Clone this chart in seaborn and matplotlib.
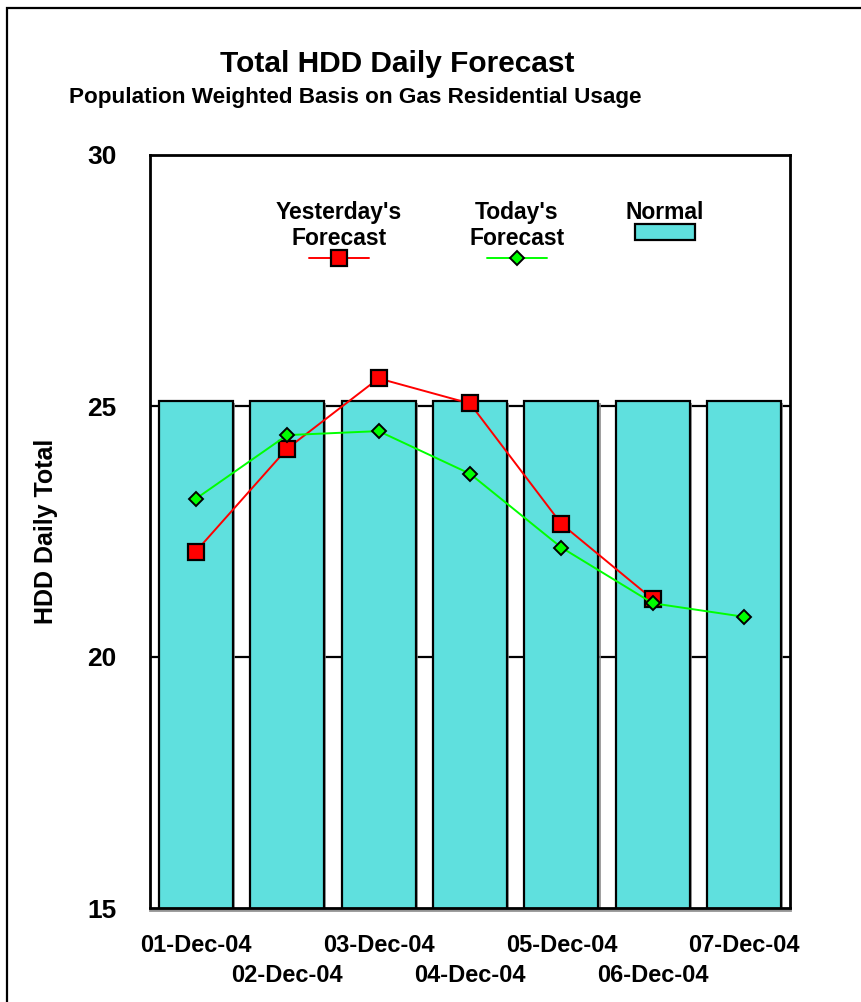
import numpy as np
import pandas as pd
import seaborn as sns
import matplotlib.pyplot as plt
from matplotlib.lines import Line2D
from matplotlib.patches import Patch, Rectangle
import matplotlib.patheffects as pe

# ---- data ----
dates = ["01-Dec-04", "02-Dec-04", "03-Dec-04", "04-Dec-04",
         "05-Dec-04", "06-Dec-04", "07-Dec-04"]
normal = [25.1, 25.1, 25.1, 25.1, 25.1, 25.1, 25.1]
yesterday = [22.1, 24.15, 25.55, 25.05, 22.65, 21.15]
today = [23.15, 24.42, 24.5, 23.65, 22.18, 21.07, 20.8]
y_ticks = [15, 20, 25, 30]

sns.set_theme(style="white")
plt.rcParams["font.family"] = ["Liberation Sans", "DejaVu Sans"]
plt.rcParams["font.weight"] = "bold"
for key in ["text.color", "axes.labelcolor", "xtick.color", "ytick.color"]:
    plt.rcParams[key] = "black"

BAR = "#5FE0DE"
RED = "#FF0000"
GREEN = "#00FF00"

fig = plt.figure(figsize=(8.62, 10.02), dpi=100)
ax = fig.add_axes([150 / 862, 94 / 1002, 640 / 862, 753 / 1002])

# outer frame
fig.patches.append(Rectangle((7 / 862, -0.05), 1.2, 1 - 7.5 / 1002 + 0.05,
                             transform=fig.transFigure, fill=False,
                             edgecolor="black", linewidth=1.6, zorder=0))

bar_df = pd.DataFrame({"date": dates, "normal": normal})
sns.barplot(data=bar_df, x="date", y="normal", color=BAR, saturation=1,
            edgecolor="black", linewidth=1.6, width=0.81, ax=ax, zorder=2)
for p in ax.patches:
    p.set_path_effects([pe.SimplePatchShadow(offset=(1.5, -1.5), shadow_rgbFace="#888888", alpha=0.8),
                        pe.Normal()])

sns.pointplot(x=dates[:len(yesterday)], y=yesterday, color=RED, markers="s",
              linestyles="-", errorbar=None, ax=ax,
              markersize=11.5, markeredgecolor="black", markeredgewidth=1.6,
              linewidth=1.4, zorder=4)
sns.pointplot(x=dates, y=today, color=GREEN, markers="D",
              linestyles="-", errorbar=None, ax=ax,
              markersize=7.5, markeredgecolor="black", markeredgewidth=1.4,
              linewidth=1.4, zorder=5)

ax.set_xlim(-0.5, len(dates) - 0.5)
ax.set_ylim(15, 30)
ax.set_yticks(y_ticks)
ax.set_yticklabels([str(t) for t in y_ticks], fontsize=19, fontweight="bold")
ax.tick_params(axis="y", length=0, pad=24)

# staggered date labels
ax.set_xticks(range(len(dates)))
ax.set_xticklabels(dates, fontsize=17, fontweight="bold")
ax.tick_params(axis="x", length=0)
for i, tick in enumerate(ax.xaxis.get_major_ticks()):
    tick.set_pad(19 if i % 2 == 0 else 40.5)

ax.set_xlabel("")
ax.set_ylabel("HDD Daily Total", fontsize=18, fontweight="bold", labelpad=21)

for v in [20, 25]:
    ax.axhline(v, color="black", linewidth=1.6, zorder=1)

for s in ax.spines.values():
    s.set_visible(True)
    s.set_color("black")
    s.set_linewidth(2)
ax.spines["bottom"].set_path_effects([pe.SimpleLineShadow(offset=(0, -1.5), shadow_color="#888888", alpha=0.9),
                                      pe.Normal()])

# legend: label text above each key
handles = [
    Line2D([], [], color=RED, marker="s", markersize=11.5, markeredgecolor="black",
           markeredgewidth=1.6, linewidth=1.4),
    Line2D([], [], color=GREEN, marker="D", markersize=7.5, markeredgecolor="black",
           markeredgewidth=1.4, linewidth=1.4),
    Patch(facecolor=BAR, edgecolor="black", linewidth=1.6),
]
leg_labels = ["Yesterday's\nForecast", "Today's\nForecast", "Normal"]
centers = [(339 - 150) / 640, (517 - 150) / 640, (665 - 150) / 640]
legends = []
for h, lab, cx in zip(handles, leg_labels, centers):
    leg = ax.legend([h], [""], loc="upper center", bbox_to_anchor=(cx, (908 - 201) / 753),
                    frameon=False, title=lab, handlelength=2.7, handleheight=0.7,
                    handletextpad=0, borderpad=0, borderaxespad=0,
                    prop={"size": 16, "weight": "bold"},
                    title_fontproperties={"size": 16.5, "weight": "bold"})
    leg.get_title().set_multialignment("center")
    leg.get_title().set_linespacing(1.15)
    leg._legend_box.sep = 0
    legends.append(leg)
# keep the last one as ax.legend_ and add the others as extra artists
for leg in legends[:-1]:
    ax.add_artist(leg)

fig.text(397 / 862, 1 - 64 / 1002, "Total HDD Daily Forecast", ha="center", va="center",
         fontsize=21.5, fontweight="bold")
fig.text(355 / 862, 1 - 97 / 1002, "Population Weighted Basis on Gas Residential Usage",
         ha="center", va="center", fontsize=16.2, fontweight="bold")

fig.savefig("out.png", dpi=100, facecolor="white")
